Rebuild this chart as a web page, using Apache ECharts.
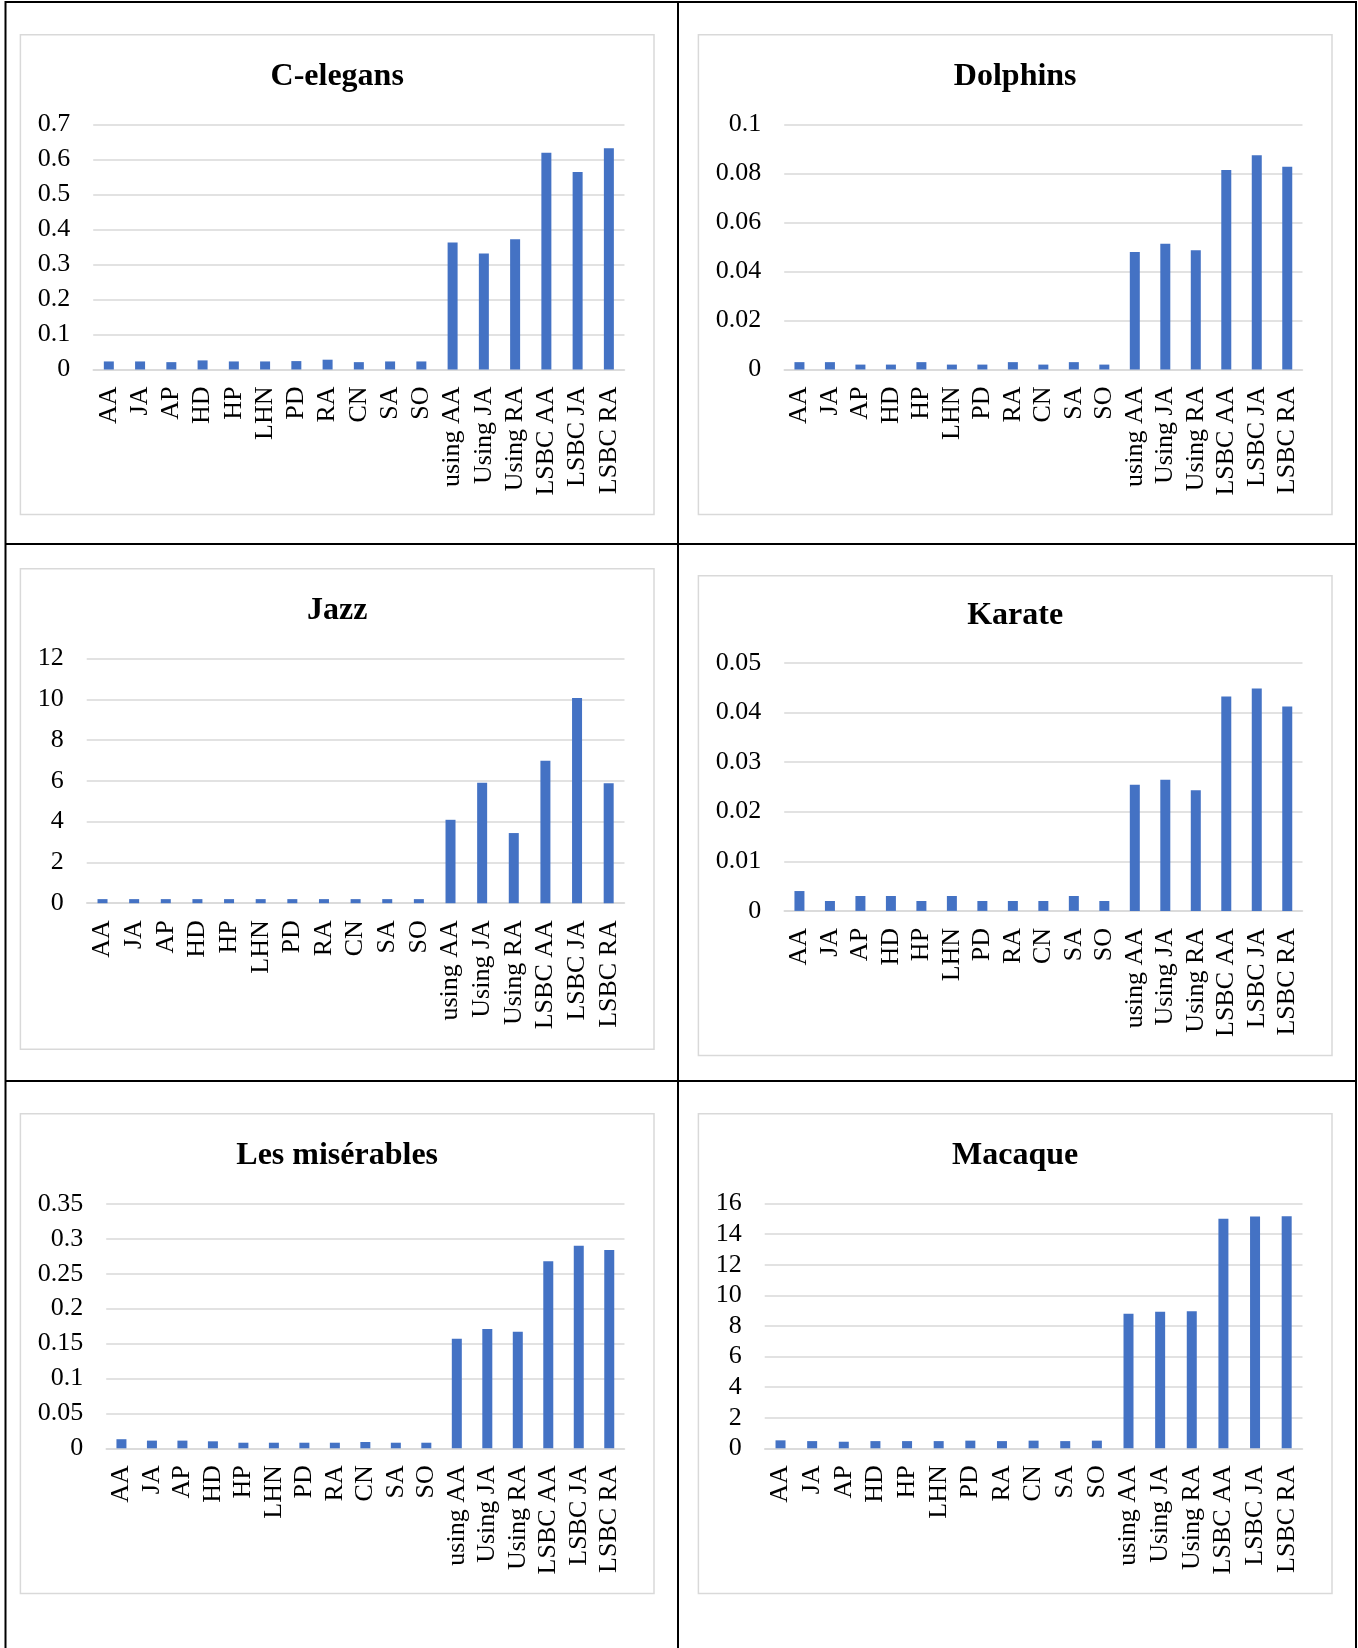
<!DOCTYPE html>
<html>
<head>
<meta charset="utf-8">
<script src="https://cdn.jsdelivr.net/npm/echarts@6/dist/echarts.min.js"></script>
<style>
  html, body { margin: 0; padding: 0; background: #ffffff; }
  #main { width: 1358px; height: 1648px; }
</style>
</head>
<body>
<div id="main"></div>
<script>
// Methods compared on every network
const categories = ['AA', 'JA', 'AP', 'HD', 'HP', 'LHN', 'PD', 'RA', 'CN', 'SA', 'SO',
  'using AA', 'Using JA', 'Using RA', 'LSBC AA', 'LSBC JA', 'LSBC RA'];

// Network names (panel titles)
const networks = ['C-elegans', 'Dolphins', 'Jazz', 'Karate', 'Les misérables', 'Macaque'];

// Scores per method, one array per network
const celegans = [0.023, 0.023, 0.021, 0.026, 0.023, 0.023, 0.024, 0.028, 0.021, 0.023, 0.023,
  0.363, 0.331, 0.372, 0.619, 0.564, 0.632];
const dolphins = [0.003, 0.003, 0.002, 0.002, 0.003, 0.002, 0.002, 0.003, 0.002, 0.003, 0.002,
  0.0479, 0.0513, 0.0487, 0.0814, 0.0874, 0.0827];
const jazz = [0.2, 0.2, 0.2, 0.2, 0.2, 0.2, 0.2, 0.2, 0.2, 0.2, 0.2,
  4.09, 5.91, 3.44, 6.99, 10.06, 5.88];
const karate = [0.004, 0.002, 0.003, 0.003, 0.002, 0.003, 0.002, 0.002, 0.002, 0.003, 0.002,
  0.0254, 0.0264, 0.0243, 0.0432, 0.0448, 0.0412];
const lesMiserables = [0.013, 0.011, 0.011, 0.010, 0.008, 0.008, 0.008, 0.008, 0.009, 0.008, 0.008,
  0.157, 0.171, 0.167, 0.268, 0.290, 0.284];
const macaque = [0.52, 0.47, 0.43, 0.47, 0.47, 0.47, 0.50, 0.47, 0.50, 0.47, 0.50,
  8.80, 8.92, 8.95, 15.00, 15.15, 15.17];

// Value-axis range and tick step per network
const yMax = [0.7, 0.1, 12, 0.05, 0.35, 16];
const yStep = [0.1, 0.02, 2, 0.01, 0.05, 2];

const seriesValues = [celegans, dolphins, jazz, karate, lesMiserables, macaque];

// Layout of the six panels: frame box, plot rectangle, title centre line
const panels = [
  { box: [20.4, 34.8, 654, 514.4],    plot: [93.2, 124.4, 624.5, 369.5],    titleY: 76.5 },
  { box: [698.4, 34.8, 1332, 514.4],  plot: [784.2, 124.4, 1302.5, 369.5],  titleY: 76.5 },
  { box: [20.4, 568.8, 654, 1049.2],  plot: [86.7, 658.5, 624.5, 903.2],    titleY: 610.4 },
  { box: [698.4, 575.8, 1332, 1055.5], plot: [784.2, 662.7, 1302.5, 910.9], titleY: 616 },
  { box: [20.4, 1113.7, 654, 1593.6], plot: [106.2, 1203.9, 624.5, 1448.3], titleY: 1155.5 },
  { box: [698.4, 1113.7, 1332, 1593.6], plot: [764.7, 1203.5, 1302.5, 1448.3], titleY: 1155.8 }
];

const FONT = '"Liberation Serif", "Times New Roman", serif';
const BAR_COLOR = '#4472C4';
const GRID_COLOR = '#D9D9D9';

const titles = [], grids = [], xAxes = [], yAxes = [], series = [], graphics = [];

panels.forEach(function (p, i) {
  const cx = (p.box[0] + p.box[2]) / 2;
  titles.push({
    text: networks[i],
    left: cx,
    top: p.titleY - 16,
    textAlign: 'center',
    padding: 0,
    textStyle: { fontFamily: FONT, fontSize: 32, fontWeight: 'bold', color: '#000' }
  });
  grids.push({
    left: p.plot[0],
    top: p.plot[1],
    width: p.plot[2] - p.plot[0],
    height: p.plot[3] - p.plot[1],
    containLabel: false
  });
  xAxes.push({
    type: 'category',
    gridIndex: i,
    data: categories,
    axisTick: { show: false },
    axisLine: { show: true, lineStyle: { color: GRID_COLOR, width: 1.5 } },
    axisLabel: {
      interval: 0,
      rotate: 90,
      margin: 17,
      fontFamily: FONT,
      fontSize: 26,
      color: '#000'
    }
  });
  yAxes.push({
    type: 'value',
    gridIndex: i,
    min: 0,
    max: yMax[i],
    interval: yStep[i],
    axisLine: { show: false },
    axisTick: { show: false },
    splitLine: { show: true, lineStyle: { color: GRID_COLOR, width: 1.5 } },
    axisLabel: { margin: 23, padding: [3, 0, 0, 0], fontFamily: FONT, fontSize: 26, color: '#000' }
  });
  series.push({
    type: 'bar',
    name: networks[i],
    xAxisIndex: i,
    yAxisIndex: i,
    data: seriesValues[i],
    barWidth: 10,
    itemStyle: { color: BAR_COLOR },
    animation: false
  });
  // light frame around each panel
  graphics.push({
    type: 'rect',
    silent: true,
    shape: { x: p.box[0], y: p.box[1], width: p.box[2] - p.box[0], height: p.box[3] - p.box[1] },
    style: { fill: null, stroke: GRID_COLOR, lineWidth: 1.5 }
  });
});

// Table rules separating the panels
const rules = [
  [5, 2, 1356, 2],
  [5.5, 1, 5.5, 1648],
  [1356, 1, 1356, 1648],
  [678, 1, 678, 1648],
  [5, 544, 1356, 544],
  [5, 1081, 1356, 1081]
];
rules.forEach(function (r) {
  graphics.push({
    type: 'line',
    silent: true,
    shape: { x1: r[0], y1: r[1], x2: r[2], y2: r[3] },
    style: { stroke: '#000', lineWidth: 2 }
  });
});

const chart = echarts.init(document.getElementById('main'), null, { renderer: 'canvas' });
chart.setOption({
  backgroundColor: '#ffffff',
  animation: false,
  title: titles,
  grid: grids,
  xAxis: xAxes,
  yAxis: yAxes,
  series: series,
  graphic: graphics
});
</script>
</body>
</html>
